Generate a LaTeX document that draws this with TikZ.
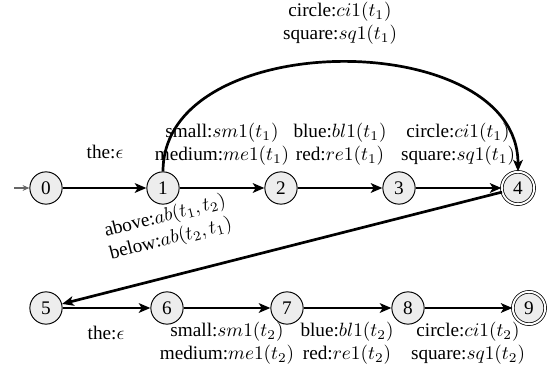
\documentclass[tikz,border=0pt]{standalone}
\usepackage[no-math]{fontspec}
\setmainfont{Liberation Serif}
\usetikzlibrary{arrows.meta}
\tikzset{
  state/.style={circle, draw=black, line width=0.5pt, fill=black!7, minimum size=16.8pt, inner sep=0pt},
  accept/.style={state, double, double distance=1pt, line width=0.4pt},
  edge/.style={line width=1.4pt, -{Stealth[length=6pt,width=5pt,inset=1.5pt]}},
  lbl/.style={align=center, inner sep=0pt},
}
\begin{document}
\begin{tikzpicture}[x=0.52pt,y=-0.52pt]
\useasboundingbox (0,0) rectangle (551,376);
% top row
\node[state] (n0) at (46,188) {0};
\node[state] (n1) at (163,188) {1};
\node[state] (n2) at (281,188) {2};
\node[state] (n3) at (399,188) {3};
\node[accept] (n4) at (518,188) {4};
% bottom row
\node[state] (n5) at (46,308) {5};
\node[state] (n6) at (167,308) {6};
\node[state] (n7) at (287,308) {7};
\node[state] (n8) at (408,308) {8};
\node[accept] (n9) at (529,308) {9};
% initial arrow
\coordinate (init) at (14,188);
\draw[black!60, line width=0.6pt, -{Stealth[length=3.5pt,width=3pt]}] (init) -- (n0);
% edges
\draw[edge] (n0) -- (n1);
\draw[edge] (n1) -- (n2);
\draw[edge] (n2) -- (n3);
\draw[edge] (n3) -- (n4);
\draw[edge] (n1.north) to[out=90,in=90,looseness=1.05] (n4.north);
\draw[edge] (n4) -- (n5);
\draw[edge] (n5) -- (n6);
\draw[edge] (n6) -- (n7);
\draw[edge] (n7) -- (n8);
\draw[edge] (n8) -- (n9);
% labels top
\node[lbl] (l01) at (105,152) {the:$\epsilon$};
\node[lbl] (l12) at (222,144) {small:$sm1(t_1)$\\medium:$me1(t_1)$};
\node[lbl] (l23) at (340,144) {blue:$bl1(t_1)$\\red:$re1(t_1)$};
\node[lbl] (l34) at (458,144) {circle:$ci1(t_1)$\\square:$sq1(t_1)$};
\node[lbl] (l14) at (340,23) {circle:$ci1(t_1)$\\square:$sq1(t_1)$};
\node[lbl, rotate=14.3] (l45) at (168,228) {above:$ab(t_1,t_2)$\\below:$ab(t_2,t_1)$};
% labels bottom
\node[lbl] (l56) at (106,333) {the:$\epsilon$};
\node[lbl] (l67) at (227,343) {small:$sm1(t_2)$\\medium:$me1(t_2)$};
\node[lbl] (l78) at (347,343) {blue:$bl1(t_2)$\\red:$re1(t_2)$};
\node[lbl] (l89) at (468,343) {circle:$ci1(t_2)$\\square:$sq1(t_2)$};
\end{tikzpicture}
\end{document}
